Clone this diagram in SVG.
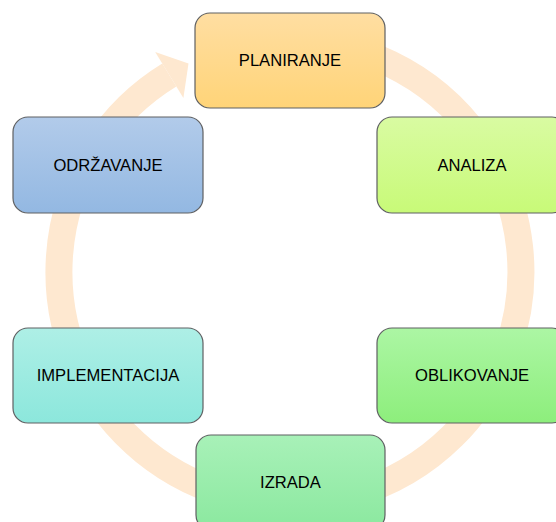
<svg xmlns="http://www.w3.org/2000/svg" width="556" height="522" viewBox="0 0 556 522">
  <style>
    .box { stroke: #5f6062; stroke-width: 1.2; }
    .lbl { font-family: "Liberation Sans", Arial, sans-serif; font-size: 16.6px; fill: #000; text-anchor: middle; dominant-baseline: central; }
    .ring { fill: none; stroke: #FEE8D0; stroke-width: 27; }
    .head { fill: #FEE8D0; }
  </style>
  <defs>
    <linearGradient id="gPlan" x1="0" y1="0" x2="0" y2="1"><stop offset="0" stop-color="#FFDEA2"/><stop offset="1" stop-color="#FFD478"/></linearGradient>
    <linearGradient id="gAnal" x1="0" y1="0" x2="0" y2="1"><stop offset="0" stop-color="#D9FBA2"/><stop offset="1" stop-color="#C8FA78"/></linearGradient>
    <linearGradient id="gOdr" x1="0" y1="0" x2="0" y2="1"><stop offset="0" stop-color="#B2CBEA"/><stop offset="1" stop-color="#93B8E2"/></linearGradient>
    <linearGradient id="gImpl" x1="0" y1="0" x2="0" y2="1"><stop offset="0" stop-color="#AEEFE6"/><stop offset="1" stop-color="#8CE7DC"/></linearGradient>
    <linearGradient id="gObl" x1="0" y1="0" x2="0" y2="1"><stop offset="0" stop-color="#ACF6A4"/><stop offset="1" stop-color="#8DEE7C"/></linearGradient>
    <linearGradient id="gIzr" x1="0" y1="0" x2="0" y2="1"><stop offset="0" stop-color="#A8F1B8"/><stop offset="1" stop-color="#8BE89F"/></linearGradient>
  </defs>

  <g id="connectors">
    <path class="ring" d="M 290 41 A 231 231 0 1 1 169.3 75"/>
    <polygon class="head" points="155.2,52 188.5,63.5 183.4,98"/>
  </g>

  <g id="planiranje">
    <rect class="box" x="195" y="13" width="190" height="95" rx="15" fill="url(#gPlan)"/>
    <text class="lbl" x="290" y="60.5">PLANIRANJE</text>
  </g>
  <g id="analiza">
    <rect class="box" x="377" y="117" width="190" height="96" rx="15" fill="url(#gAnal)"/>
    <text class="lbl" x="472" y="165">ANALIZA</text>
  </g>
  <g id="oblikovanje">
    <rect class="box" x="377" y="328" width="190" height="95" rx="15" fill="url(#gObl)"/>
    <text class="lbl" x="472" y="375.5">OBLIKOVANJE</text>
  </g>
  <g id="izrada">
    <rect class="box" x="196" y="435" width="189" height="95" rx="15" fill="url(#gIzr)"/>
    <text class="lbl" x="290.5" y="482.5">IZRADA</text>
  </g>
  <g id="implementacija">
    <rect class="box" x="13" y="328" width="190" height="95" rx="15" fill="url(#gImpl)"/>
    <text class="lbl" x="108" y="375.5">IMPLEMENTACIJA</text>
  </g>
  <g id="odrzavanje">
    <rect class="box" x="13" y="117" width="190" height="96" rx="15" fill="url(#gOdr)"/>
    <text class="lbl" x="108" y="165">ODRŽAVANJE</text>
  </g>
</svg>
